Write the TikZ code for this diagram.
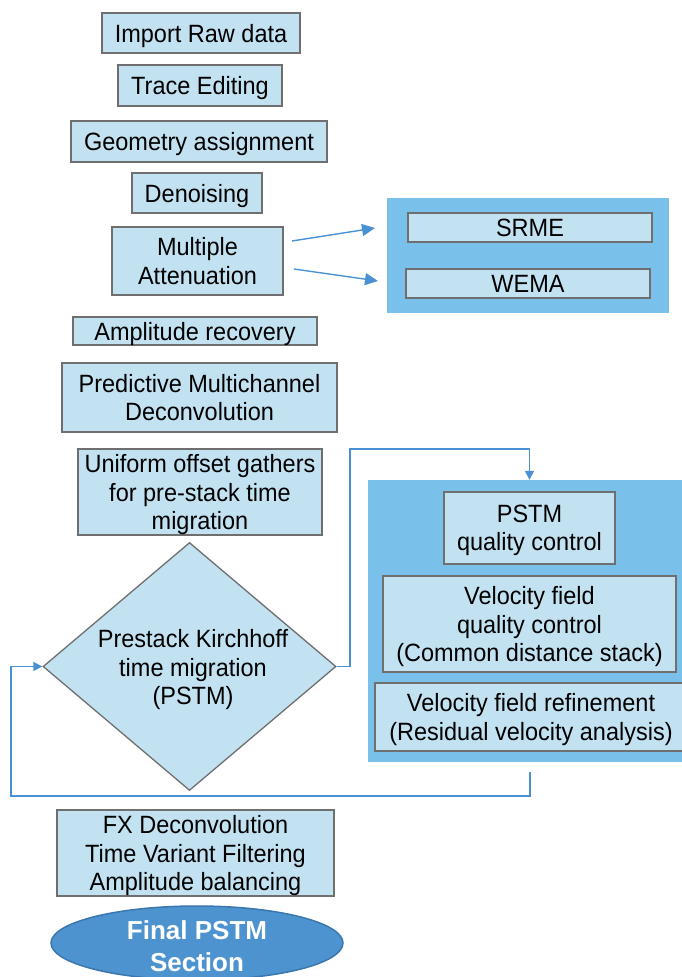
\documentclass[tikz,border=0pt]{standalone}
\usepackage{fontspec}
\setmainfont{Liberation Sans}[FakeStretch=0.94]
\newfontfamily\endfont{Liberation Sans}
\usetikzlibrary{shapes.geometric,arrows.meta}
\definecolor{boxfill}{HTML}{C2E2F1}
\definecolor{boxline}{HTML}{6F6F6F}
\definecolor{panelfill}{HTML}{79C1EA}
\definecolor{linkblue}{HTML}{4A91D3}
\definecolor{endfill}{HTML}{4C93D0}
\definecolor{endline}{HTML}{3B77AE}
\tikzset{
  stepbox/.style={draw=boxline, fill=boxfill, line width=1.3pt, align=center,
    inner sep=0pt, text depth=0pt, font=\fontsize{25}{28.5}\selectfont},
  panel/.style={fill=panelfill, draw=none, inner sep=0pt},
  link/.style={draw=linkblue, line width=1.4pt},
  linkarrow/.style={link, -{Triangle[length=9pt,width=9pt]}},
  bigarrow/.style={link, -{Triangle[length=13pt,width=12pt]}},
}
\begin{document}
\begin{tikzpicture}[x=1pt,y=-1pt]
\useasboundingbox (0,0) rectangle (682,977);
\begin{scope}
\clip (0,0) rectangle (682,977);

% side panels
\node[panel, minimum width=282, minimum height=115] (srmepanel) at (528,255.5) {};
\node[panel, minimum width=314, minimum height=282] (qcpanel) at (525,621) {};

% main column
\node[stepbox, minimum width=198, minimum height=40] (raw) at (201,33) {Import Raw data};
\node[stepbox, minimum width=164, minimum height=41] (trace) at (200,85.5) {Trace Editing};
\node[stepbox, minimum width=256, minimum height=41] (geom) at (199,141.5) {Geometry assignment};
\node[stepbox, minimum width=130, minimum height=40] (denoise) at (197,193) {Denoising};
\node[stepbox, minimum width=171, minimum height=68] (mult) at (197.5,261) {Multiple\\Attenuation};
\node[stepbox, minimum width=244, minimum height=28] (amp) at (195,331) {Amplitude recovery};
\node[stepbox, minimum width=275, minimum height=69] (pred) at (199.5,397.5) {Predictive Multichannel\\Deconvolution};
\node[stepbox, minimum width=244, minimum height=86] (unif) at (200,492) {Uniform offset gathers\\for pre-stack time\\migration};
\node[stepbox, shape=diamond, minimum width=293, minimum height=248] (dia) at (189.5,666.5) {};
\node[align=center, font=\fontsize{25}{28.5}\selectfont] (diatext) at (193,670) {Prestack Kirchhoff\\time migration\\(PSTM)};
\node[stepbox, minimum width=277, minimum height=86] (fx) at (195.5,853) {FX Deconvolution\\Time Variant Filtering\\Amplitude balancing};
\node[ellipse, draw=endline, fill=endfill, line width=1.5pt, minimum width=292, minimum height=74,
  inner sep=0pt] (final) at (197,943) {};
\node[align=center, text=white, font=\endfont\bfseries\fontsize{26}{32}\selectfont] (finaltext) at (197,946) {Final PSTM\\Section};

% multiple attenuation methods
\node[stepbox, minimum width=244, minimum height=29] (srme) at (530,227.5) {SRME};
\node[stepbox, minimum width=244, minimum height=29] (wema) at (528,283.5) {WEMA};

% quality control steps
\node[stepbox, minimum width=171, minimum height=72] (pstmqc) at (529.5,528) {PSTM\\quality control};
\node[stepbox, minimum width=293, minimum height=96] (velqc) at (529.5,624) {Velocity field\\quality control\\(Common distance stack)};
\node[stepbox, minimum width=312, minimum height=68] (velref) at (531,717) {Velocity field refinement\\(Residual velocity analysis)};

% arrows to the attenuation methods
\coordinate (ma1) at (292,241);
\coordinate (ma2) at (294,269);
\coordinate (me1) at (375,228);
\coordinate (me2) at (378,281);
\draw[bigarrow] (ma1) -- (me1);
\draw[bigarrow] (ma2) -- (me2);

% migration to quality control
\coordinate (turn) at (350,449);
\draw[linkarrow] (dia.east) -| (turn) -| (pstmqc.north |- qcpanel.north);

% feedback loop back into the migration
\coordinate (loopstart) at (530,772);
\coordinate (loopcorner) at (11,796);
\draw[linkarrow] (loopstart) |- (loopcorner) |- (dia.west);
\end{scope}
\end{tikzpicture}
\end{document}
